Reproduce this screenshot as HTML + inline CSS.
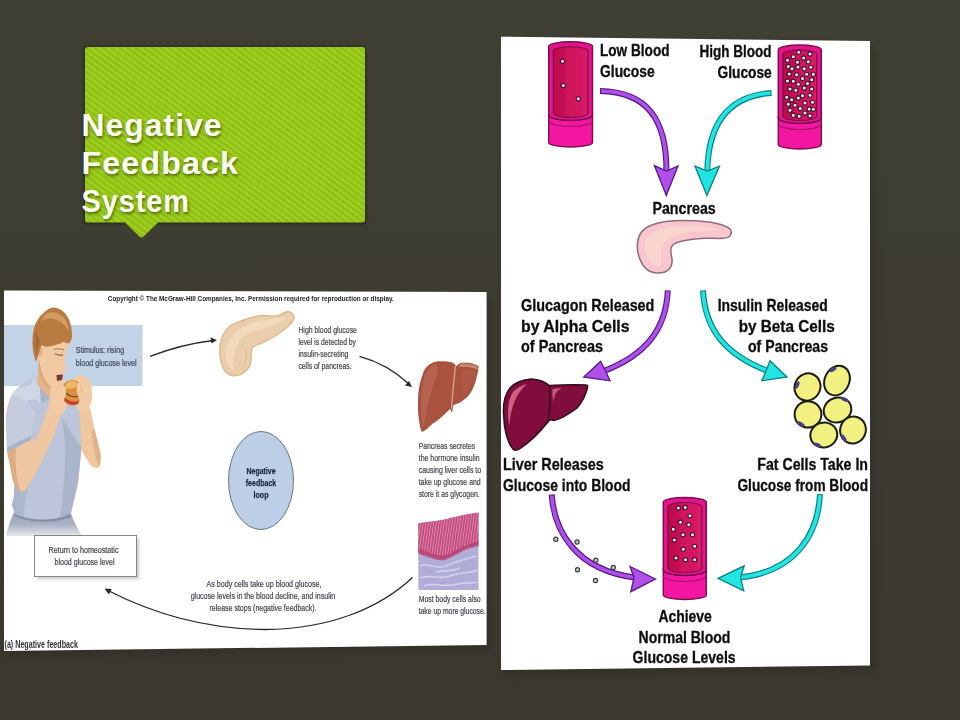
<!DOCTYPE html>
<html><head><meta charset="utf-8">
<title>Negative Feedback System</title>
<style>
html,body{margin:0;padding:0;}
body{width:960px;height:720px;overflow:hidden;background:#3d3b30;font-family:"Liberation Sans",sans-serif;}
svg{display:block;position:absolute;left:0;top:0;}
.t{font-family:"Liberation Sans",sans-serif;}
</style></head>
<body>
<svg width="960" height="720" viewBox="0 0 960 720">
<defs>
<linearGradient id="bg" x1="0" y1="0" x2="0" y2="1">
<stop offset="0" stop-color="#3f4033"/><stop offset="0.45" stop-color="#3e3c31"/><stop offset="1" stop-color="#3c382f"/>
</linearGradient>
<linearGradient id="sg" x1="0" y1="0" x2="1" y2="0"><stop offset="0" stop-color="#9fd021"/><stop offset="0.25" stop-color="#9fd021"/><stop offset="0.5" stop-color="#8ebe13"/><stop offset="0.75" stop-color="#8ebe13"/><stop offset="1" stop-color="#9fd021"/></linearGradient>
<pattern id="stripe" width="4.9" height="4.9" patternUnits="userSpaceOnUse" patternTransform="rotate(-53.5)"><rect width="4.9" height="4.9" fill="url(#sg)"/></pattern>
<filter id="sh" x="-10%" y="-10%" width="120%" height="120%"><feGaussianBlur stdDeviation="4"/></filter>
<filter id="b1" x="-5%" y="-5%" width="110%" height="110%"><feGaussianBlur stdDeviation="0.55"/></filter>
<filter id="b2" x="-5%" y="-5%" width="110%" height="110%"><feGaussianBlur stdDeviation="0.6"/></filter>
<clipPath id="clipL"><polygon points="4,290.6 486.6,292 486.6,645 4,651"/></clipPath>
<clipPath id="clipR"><polygon points="501,36.7 870,41 870,665.5 501,670"/></clipPath>
<linearGradient id="cav" x1="0" y1="0" x2="1" y2="0"><stop offset="0" stop-color="#b80c48"/><stop offset="0.5" stop-color="#d0145c"/><stop offset="1" stop-color="#d81c68"/></linearGradient>
<pattern id="stri" width="2.6" height="8" patternUnits="userSpaceOnUse" patternTransform="rotate(8)"><rect x="0" y="0" width="0.9" height="8" fill="#eba6c6" opacity=".7"/></pattern>
<filter id="b2s" x="-5%" y="-5%" width="110%" height="110%"><feGaussianBlur stdDeviation="1.6"/></filter>
<filter id="tex" x="0" y="0" width="100%" height="100%"><feTurbulence type="fractalNoise" baseFrequency="0.55" numOctaves="2" seed="3" result="n"/><feColorMatrix in="n" type="matrix" values="0 0 0 0 0.72  0 0 0 0 0.5  0 0 0 0 0.3  0 0 0 -2.2 1.25" result="c"/><feComposite in="c" in2="SourceGraphic" operator="in"/></filter>
<linearGradient id="jg" x1="0" y1="0" x2="0" y2="1"><stop offset="0" stop-color="#97a2b8"/><stop offset="0.55" stop-color="#a9b2c5"/><stop offset="1" stop-color="#e6e9ef"/></linearGradient>
</defs>
<rect width="960" height="720" fill="url(#bg)"/>

<!-- title callout -->
<g id="title">
<rect x="84" y="46.500" width="282" height="177.500" rx="4" fill="#000" opacity=".35" filter="url(#b2s)"/>
<path d="M88,47 H362 Q365,47 365,50 V219.5 Q365,222.5 362,222.5 H158 L143.5,236.5 Q141.5,238.5 139.5,236.5 L125,222.5 H88 Q85,222.5 85,219.5 V50 Q85,47 88,47 Z" fill="url(#stripe)"/>
<g class="t" font-weight="bold" font-size="32" fill="#fdfff0" letter-spacing="1" style="text-shadow:1px 2px 3px rgba(0,0,0,.45)">
<text x="81.5" y="136" textLength="141" lengthAdjust="spacingAndGlyphs">Negative</text>
<text x="81.5" y="174" textLength="157.5" lengthAdjust="spacingAndGlyphs">Feedback</text>
<text x="81.5" y="212" textLength="108.5" lengthAdjust="spacingAndGlyphs">System</text>
</g>
</g>

<!-- shadows -->
<polygon points="6,296 491,297 491,651 6,657" fill="#000" opacity=".14" filter="url(#sh)"/>
<polygon points="504,42 876,46 876,671 504,676" fill="#000" opacity=".14" filter="url(#sh)"/>

<!-- LEFT IMAGE -->
<g id="left" clip-path="url(#clipL)">
<rect x="0" y="285" width="495" height="372" fill="#fff"/>
<g id="leftc" filter="url(#b1)">
<!-- blue stimulus box -->
<rect x="4" y="325" width="138.5" height="61" fill="#c2d3e6"/>
<!-- man -->
<g id="man">
  <!-- jeans -->
  <path d="M15,510 L70,510 C72,518 76,526 81,534 L82,536 L6,536 C8,527 11,518 15,510 Z" fill="url(#jg)"/>
  <path d="M15,511 C30,519 55,520 70,512 L71,517 C55,524 30,523 14,516 Z" fill="#8590a8"/>
  <!-- torso shirt -->
  <path d="M14,391.5 C9,400 6,410 6,420 L7,451 L14,478 L14.2,495 L11.8,505 L15,514 C30,521 55,522 71,513 L78,483 L81.5,448 L86,425 L82,404 L68,390 L52,400 L40,386 L33,378 C26,382 18,387 14,391.5 Z" fill="#bcc5d9"/>
  <path d="M14,391.500 C22,386 30,384 34,386 L40,400 C30,398 20,402 10,412 C10,404 11,397 14,391.500 Z" fill="#d2d8e6" opacity=".9"/>
  <path d="M62,418 C66,440 66,470 62,500 L60,517 C64,516 68,515 71,513 L78,483 L81.500,448 C76,440 70,430 62,418 Z" fill="#a7b1c9" opacity=".85"/>
  <path d="M14,478 L14.2,495 L11.8,505 L15,514 C18,515.500 21,516.500 24,517 C24,505 26,494 30,482 Z" fill="#a7b1c9" opacity=".8"/>
  <!-- neck -->
  <path d="M39,364 L56,384 L52,400 L36,392 Z" fill="#e4b58a"/>
  <!-- collar -->
  <path d="M33,378 L28.500,392 L41,404 L40,388 Z" fill="#cfd6e5"/>
  <path d="M40,388 L41,404 L50,398 Z" fill="#aab4cb"/>
  <!-- left arm (viewer left) -->
  <path d="M7,451 L13,481 C15,487 18,491 21,491.500 C24,491.500 26,490 27,488 L40,465 L52,440 L61,414 L50,400 L44,420 L36,440 L31,439 Z" fill="#efc7a0"/>
  <path d="M7,451 L13,481 C15,487 18,491 21,491.500 C17,482 15,470 16,447 Z" fill="#d9a87c" opacity=".8"/>
  <!-- left sleeve -->
  <path d="M12,394 C8,402 6,412 6,420 L7,452 L31,440 L35,412 C30,402 20,396 12,394 Z" fill="#c4ccde"/>
  <path d="M7,447 L31,435.500 L31,440 L7,452 Z" fill="#a9b3ca"/>
  <!-- right arm -->
  <path d="M79,410 L80.300,429 L81.500,450 L89.800,464.500 C93,468 97,469 99.200,467 C101,463 101,458 100.400,452.700 L94.500,429 L90,408 Z" fill="#efc7a0"/>
  <path d="M94.500,429 L100.400,452.700 C101,458 101,463 99.200,467 C96,462 94,450 91,432 Z" fill="#dcae84" opacity=".8"/>
  <!-- hands -->
  <path d="M52,384 C56,378 64,378 67,384 C70,392 69,404 64,412 C60,417 54,416 51,410 C49,402 49,392 52,384 Z" fill="#f2caa3"/>
  <path d="M74,378 C80,373 88,376 91,384 C93,394 92,404 88,410 C84,413 78,412 76,406 C74,398 72,386 74,378 Z" fill="#f2caa3"/>
  <!-- burger -->
  <path d="M63,386 C66,379 76,378 80,384 C83,390 82,398 78,403 C74,407 68,406 65,402 C62,398 61,392 63,386 Z" fill="#d9913f"/>
  <path d="M66,384 C69,380 75,380 78,384 C76,388 70,390 66,388 Z" fill="#ecb865"/>
  <path d="M64,397 C68,401 74,403 79,401 L78,404 C73,406 67,404 64,400 Z" fill="#c63a2a"/>
  <path d="M66,393 C70,397 76,398 80,395" stroke="#7a4a20" stroke-width="1.2" fill="none"/>
  <!-- fingers over burger -->
  <path d="M60,386 C63,384 66,386 66,390 C66,396 64,402 61,404 Z" fill="#f2caa3"/>
  <path d="M80,382 C77,382 76,386 77,392 C78,398 80,402 83,402 Z" fill="#f2caa3"/>
  <!-- face -->
  <path d="M39,346 C37,356 38,368 42,379 C46,386 52,390 56,388 L60,382 L58,379 L63,376 L64,372 L67,368.500 L64,361 L66,352 L69,344 C62,338 48,338 39,346 Z" fill="#f1c9a3"/>
  <path d="M39,358 C40,370 44,381 52,388 C47,387 43,383 41,378 C38,370 38,364 39,358 Z" fill="#d9a57a" opacity=".9"/>
  <path d="M56.500,375 L63,374.500 L62,380 L57,381 Z" fill="#7c3b30"/>
  <path d="M55,353.500 C57,355 60,355.500 63,355" stroke="#6b4a35" stroke-width="1" fill="none"/>
  <path d="M54,349.500 C57,348.500 61,348.500 64,350" stroke="#a8703e" stroke-width="1" fill="none"/>
  <!-- ear -->
  <ellipse cx="40" cy="352" rx="2.600" ry="4.800" fill="#e5b287"/>
  <!-- hair -->
  <path d="M35.800,361.700 C33.500,355 32.300,348 32.500,341.700 C32.500,335 33.500,329 35,325 C37,320 40,316 43.300,313.300 C46.500,310 50,307.800 53.300,307.500 C58,307.500 62,310 65,313.300 C68,317 70,321 70.800,325 C71.800,329 72.200,333 72,336.700 C71.500,340 70.500,342 69.200,343.300 C67,343.500 65,342.500 63.300,341.700 C60.500,343.500 58,344.500 55,345 C52,346 49.500,346.700 46.700,346.700 C45,346.500 43.300,346 41.700,345 C41,346.500 40.500,348 40,350 C39,353 38,355.500 37.500,358 C37,359.500 36.500,360.500 35.800,361.700 Z" fill="#b97a43"/>
  <path d="M46,314 C52,310.500 60,312 65,319 C67,322 68.500,326 69,331 C64,323 57,318 48,318.500 C45,318.800 43,320 41,322 C42,318.500 43.500,316 46,314 Z" fill="#d39d62"/>
  <path d="M36,330 C35,338 35,348 37,356 C37.500,350 38,345 40,341 C38,338 37,334 36,330 Z" fill="#9c6232" opacity=".7"/>
</g>
<!-- texts -->
<g class="t" font-size="9.3" fill="#43464f" stroke="#43464f" stroke-width="0.22">
<text x="75.7" y="353.2" textLength="48.5" lengthAdjust="spacingAndGlyphs" fill="#3c4a66">Stimulus: rising</text>
<text x="75.7" y="365.6" textLength="61" lengthAdjust="spacingAndGlyphs" fill="#3c4a66">blood glucose level</text>
<text x="298.4" y="333.1" textLength="58.5" lengthAdjust="spacingAndGlyphs">High blood glucose</text>
<text x="298.4" y="345" textLength="57.6" lengthAdjust="spacingAndGlyphs">level is detected by</text>
<text x="298.4" y="357.1" textLength="50" lengthAdjust="spacingAndGlyphs">insulin-secreting</text>
<text x="298.4" y="368.9" textLength="53.2" lengthAdjust="spacingAndGlyphs">cells of pancreas.</text>
<text x="418.7" y="448.8" textLength="56.5" lengthAdjust="spacingAndGlyphs">Pancreas secretes</text>
<text x="418.7" y="461" textLength="61" lengthAdjust="spacingAndGlyphs">the hormone insulin</text>
<text x="418.7" y="473.2" textLength="62.5" lengthAdjust="spacingAndGlyphs">causing liver cells to</text>
<text x="418.7" y="485.3" textLength="62" lengthAdjust="spacingAndGlyphs">take up glucose and</text>
<text x="418.7" y="497.3" textLength="61" lengthAdjust="spacingAndGlyphs">store it as glycogen.</text>
<text x="418.7" y="602" textLength="62" lengthAdjust="spacingAndGlyphs">Most body cells also</text>
<text x="418.7" y="613.8" textLength="67" lengthAdjust="spacingAndGlyphs">take up more glucose.</text>
<text x="206.5" y="586.8" textLength="115" lengthAdjust="spacingAndGlyphs">As body cells take up blood glucose,</text>
<text x="190.7" y="598.5" textLength="144.5" lengthAdjust="spacingAndGlyphs">glucose levels in the blood decline, and insulin</text>
<text x="209.5" y="611" textLength="107" lengthAdjust="spacingAndGlyphs">release stops (negative feedback).</text>
</g>
<text class="t" x="107.8" y="301" font-size="7.8" font-weight="bold" fill="#222" textLength="286" lengthAdjust="spacingAndGlyphs">Copyright © The McGraw-Hill Companies, Inc. Permission required for reproduction or display.</text>
<text class="t" x="4.5" y="648" font-size="10" font-weight="bold" fill="#333" textLength="73.5" lengthAdjust="spacingAndGlyphs">(a) Negative feedback</text>
<!-- return box -->
<rect x="37" y="538" width="102" height="41" fill="#888" opacity=".45" filter="url(#b2s)"/>
<rect x="34.5" y="535.5" width="102" height="41" fill="#fff" stroke="#888" stroke-width="1"/>
<g class="t" font-size="9.3" fill="#43464f" stroke="#43464f" stroke-width="0.22">
<text x="48.5" y="553" textLength="70" lengthAdjust="spacingAndGlyphs">Return to homeostatic</text>
<text x="54.5" y="565" textLength="60" lengthAdjust="spacingAndGlyphs">blood glucose level</text>
</g>
<!-- centre ellipse -->
<ellipse cx="261" cy="480.5" rx="32.5" ry="49" fill="#bccfe6" stroke="#6a7488" stroke-width="1"/>
<g class="t" font-size="9.6" font-weight="bold" fill="#1b2540" stroke="#1b2540" stroke-width="0.25" text-anchor="middle">
<text x="261" y="474" textLength="29" lengthAdjust="spacingAndGlyphs">Negative</text>
<text x="261" y="486" textLength="30.5" lengthAdjust="spacingAndGlyphs">feedback</text>
<text x="261" y="498.2" textLength="15" lengthAdjust="spacingAndGlyphs">loop</text>
</g>
<!-- pancreas -->
<path d="M293.75,316.25 C292,312 289,311 286,312 C282,313.5 279,316 275,316.25 C270,316.5 265,315 260,315.6 C254,316.5 249,318 243.75,320 C239,322 235,323 231.25,325 C228,327.5 225.5,330 223.75,333.75 C221.5,338 220,342 220,347.5 C219.8,352 220,356 220.6,360 C221.5,365 223,369.5 226.25,372.5 C229,375 232,376 235,375.6 C238.5,375.3 241.5,374.5 243.75,372.5 C247,370 249,368 250,365 C251.2,361 251,357.5 251.25,353.75 C251.5,351 251.5,349 252.5,347.5 C254.5,345.5 257,344.8 260,343.75 C264.5,342 268.5,339.8 272.5,337.5 C277,335 281,332 285,328.75 C288,326.5 290.5,324 292.5,321.25 C293.8,319.5 294.3,317.8 293.75,316.25 Z" fill="#ecd0ae" stroke="#dcb48c" stroke-width="1.4"/>
<path d="M293.75,316.25 C292,312 289,311 286,312 C282,313.5 279,316 275,316.25 C270,316.5 265,315 260,315.6 C254,316.5 249,318 243.75,320 C239,322 235,323 231.25,325 C228,327.5 225.5,330 223.75,333.75 C221.5,338 220,342 220,347.5 C219.8,352 220,356 220.6,360 C221.5,365 223,369.5 226.25,372.5 C229,375 232,376 235,375.6 C238.5,375.3 241.5,374.5 243.75,372.5 C247,370 249,368 250,365 C251.2,361 251,357.5 251.25,353.75 C251.5,351 251.5,349 252.5,347.5 C254.5,345.5 257,344.8 260,343.75 C264.5,342 268.5,339.8 272.5,337.5 C277,335 281,332 285,328.75 C288,326.5 290.5,324 292.5,321.25 C293.8,319.5 294.3,317.8 293.75,316.25 Z" fill="#fff" filter="url(#tex)" opacity=".55"/>
<path d="M286,315 C276,320 262,319 248,324 C236,329 227,340 225.5,352 C225,360 228,367 234,370 C232,360 234,348 241,339 C250,330 270,329 284,320 Z" fill="#f3dec2" opacity=".75"/>
<path d="M246,350 C247,358 246,364 242,369" stroke="#dcb48c" stroke-width="1" fill="none" opacity=".8"/>
<!-- liver -->
<path d="M441,361.25 C436,361 432,362.5 428.75,365 C425.5,367.5 423.5,371 422.5,375 C420.5,380 419.5,385 418.75,390 C418,395.5 418,401 418,406.25 C418,412 418.5,417.5 419.4,422.5 C420,427 420.8,430.5 421.9,431.9 C425,431 428.5,427.5 432.5,423.75 C436,421.5 439.5,419 442.5,416.25 C445.5,413.5 448,411 450,408.75 L452,413 L453.5,405 C456,404.2 458,403.5 460,402.5 C464,400 467.5,397 470,393.75 C473,389 475,384 476.25,378.75 C477.5,374 478.5,370 478.75,366.25 C476,364.5 473,363.5 470,363 C466.5,362.6 463,362.7 460,363.1 C458.5,364 457.5,365 456.25,366.25 C455,364.5 454,363.3 452.5,362.5 C449,361.5 445,361.2 441,361.25 Z" fill="#a8523f"/>
<path d="M436,363 C429,366 425,373 423,382 C421,392 420.5,404 421,414 C421.5,420 422,425 423,428 C427,412 430,392 438,372 Z" fill="#bb6a55" opacity=".75"/>
<path d="M455.5,366 C454,378 452.500,392 451.500,409" stroke="#d9a58c" stroke-width="1.3" fill="none"/>
<path d="M460,364 C466,363.300 472,364 478,366.500 L477.500,369.500 C471,367 465,366.500 459,367 Z" fill="#c98a72"/>
<path d="M462,370 C468,369 473,370 476,372 C474,382 470,390 464,396 C462,388 461,378 462,370 Z" fill="#b25e49" opacity=".6"/>
<!-- tissue -->
<g id="tissue">
<path d="M418.3,523.3 C428,522 440,521 450,518.3 C458,516 466,514.5 478.5,512.5 L478.5,590 L418.3,590 Z" fill="#b1add9"/>
<path d="M418.3,523.3 C428,522 440,521 450,518.3 C458,516 466,514.5 478.5,512.5 L478.5,544.2 C470,546 462,549 458,551.700 C450,556 446,558.500 441.700,558.300 C434,558 426,554 418.3,551.700 Z" fill="#c24a7c"/>
<path d="M418.3,523.3 C428,522 440,521 450,518.3 C458,516 466,514.5 478.5,512.5 L478.5,544.2 C470,546 462,549 458,551.700 C450,556 446,558.500 441.700,558.300 C434,558 426,554 418.3,551.700 Z" fill="url(#stri)"/>
<path d="M418.3,548 C426,551 434,555.500 441.700,555.500 C448,555.500 454,551 460,548 C466,545 472,543 478.500,541.500 L478.500,546 C470,548 462,551 458,553.700 C450,558 446,560.500 441.700,560.300 C434,560 426,556 418.300,553.700 Z" fill="#b8406e" opacity=".8"/>
<g stroke="#dcdaf0" stroke-width="1.6" fill="none" opacity=".8">
<path d="M420,566 C428,562 436,570 446,566 C454,562 462,560 476,556"/>
<path d="M420,578 C430,574 440,580 450,576 C460,572 468,574 477,570"/>
<path d="M424,586 C434,582 446,588 458,584 C466,582 472,584 477,582"/>
<path d="M436,572 C444,570 452,572 460,568"/>
</g>
<g stroke="#c890c0" stroke-width="1" fill="none" opacity=".7">
<path d="M426,570 L432,572 M448,580 L455,578 M462,566 L468,564 M440,584 L446,583"/>
</g>
</g>
<!-- arrows -->
<g fill="none" stroke="#2a2a2e" stroke-width="1.3">
<path d="M150,356.3 C172,348 192,343 213,340.5"/>
<path d="M359.5,356.4 C380,362 396,372 409,384"/>
<path d="M412.5,577.5 C380,608 330,629 265,629.5 C200,629 150,612 108,590.5"/>
</g>
<g fill="#2a2a2e">
<path d="M217,340 L210.5,337.5 L211.5,343.5 Z"/>
<path d="M412,387 L405,385.500 L409,381 Z"/>
<path d="M104.500,588.500 L111.800,589 L108.800,594.500 Z"/>
</g>
</g><!--END leftc--></g>

<!-- RIGHT IMAGE -->
<g id="right" clip-path="url(#clipR)">
<rect x="495" y="30" width="380" height="645" fill="#fff"/>
<g id="rightc" filter="url(#b1)">
<!--T1-->
<path d="M548.7,114 L548.7,142.5 A21.899999999999977,4.5 0 0 0 592.5,142.5 L592.5,114 Z" fill="#f318a0" stroke="#7a0c4c" stroke-width="1.4"/>
<path d="M548.7,46.3 A21.899999999999977,4.5 0 0 1 592.5,46.3 L592.5,115 A21.899999999999977,5.5 0 0 1 548.7,115 Z" fill="#e2128a" stroke="#7a0c4c" stroke-width="1.4"/>
<path d="M553.3000000000001,50.8 A17.299999999999955,4.0 0 0 1 587.9,50.8 L587.9,113 A17.299999999999955,4.5 0 0 1 553.3000000000001,113 Z" fill="url(#cav)" stroke="#7a0c4c" stroke-width="1.1"/>
<path d="M548.7,115 A21.899999999999977,5.5 0 0 0 592.5,115" fill="none" stroke="#7a0c4c" stroke-width="1.2"/>
<path d="M548.7,121 A21.899999999999977,5.5 0 0 0 592.5,121" fill="none" stroke="#a81070" stroke-width="1.2"/>
<circle cx="562.5" cy="61.3" r="2.1" fill="#e4ecee" stroke="#4a1030" stroke-width="1.1"/>
<circle cx="563.3" cy="85.5" r="2.1" fill="#e4ecee" stroke="#4a1030" stroke-width="1.1"/>
<circle cx="578.3" cy="98.8" r="2.1" fill="#e4ecee" stroke="#4a1030" stroke-width="1.1"/>
<!--T2-->
<path d="M778.3,117 L778.3,144.5 A21.5,4.5 0 0 0 821.3,144.5 L821.3,117 Z" fill="#f318a0" stroke="#7a0c4c" stroke-width="1.4"/>
<path d="M778.3,49.5 A21.5,4.5 0 0 1 821.3,49.5 L821.3,118 A21.5,5.5 0 0 1 778.3,118 Z" fill="#e2128a" stroke="#7a0c4c" stroke-width="1.4"/>
<path d="M782.9,54.0 A16.899999999999977,4.0 0 0 1 816.6999999999999,54.0 L816.6999999999999,116 A16.899999999999977,4.5 0 0 1 782.9,116 Z" fill="url(#cav)" stroke="#7a0c4c" stroke-width="1.1"/>
<path d="M778.3,118 A21.5,5.5 0 0 0 821.3,118" fill="none" stroke="#7a0c4c" stroke-width="1.2"/>
<path d="M778.3,124 A21.5,5.5 0 0 0 821.3,124" fill="none" stroke="#a81070" stroke-width="1.2"/>
<circle cx="798.7" cy="52.3" r="2.1" fill="#e4ecee" stroke="#4a1030" stroke-width="1.1"/>
<circle cx="810.0" cy="54.0" r="2.1" fill="#e4ecee" stroke="#4a1030" stroke-width="1.1"/>
<circle cx="793.3" cy="56.8" r="2.1" fill="#e4ecee" stroke="#4a1030" stroke-width="1.1"/>
<circle cx="803.7" cy="58.0" r="2.1" fill="#e4ecee" stroke="#4a1030" stroke-width="1.1"/>
<circle cx="787.5" cy="60.2" r="2.1" fill="#e4ecee" stroke="#4a1030" stroke-width="1.1"/>
<circle cx="797.5" cy="62.3" r="2.1" fill="#e4ecee" stroke="#4a1030" stroke-width="1.1"/>
<circle cx="808.3" cy="61.8" r="2.1" fill="#e4ecee" stroke="#4a1030" stroke-width="1.1"/>
<circle cx="788.3" cy="66.5" r="2.1" fill="#e4ecee" stroke="#4a1030" stroke-width="1.1"/>
<circle cx="792.0" cy="68.7" r="2.1" fill="#e4ecee" stroke="#4a1030" stroke-width="1.1"/>
<circle cx="798.0" cy="67.0" r="2.1" fill="#e4ecee" stroke="#4a1030" stroke-width="1.1"/>
<circle cx="804.2" cy="68.7" r="2.1" fill="#e4ecee" stroke="#4a1030" stroke-width="1.1"/>
<circle cx="810.8" cy="67.3" r="2.1" fill="#e4ecee" stroke="#4a1030" stroke-width="1.1"/>
<circle cx="789.2" cy="74.0" r="2.1" fill="#e4ecee" stroke="#4a1030" stroke-width="1.1"/>
<circle cx="796.7" cy="74.7" r="2.1" fill="#e4ecee" stroke="#4a1030" stroke-width="1.1"/>
<circle cx="806.7" cy="74.3" r="2.1" fill="#e4ecee" stroke="#4a1030" stroke-width="1.1"/>
<circle cx="802.5" cy="78.5" r="2.1" fill="#e4ecee" stroke="#4a1030" stroke-width="1.1"/>
<circle cx="787.5" cy="81.0" r="2.1" fill="#e4ecee" stroke="#4a1030" stroke-width="1.1"/>
<circle cx="793.3" cy="81.3" r="2.1" fill="#e4ecee" stroke="#4a1030" stroke-width="1.1"/>
<circle cx="798.3" cy="84.3" r="2.1" fill="#e4ecee" stroke="#4a1030" stroke-width="1.1"/>
<circle cx="807.5" cy="83.5" r="2.1" fill="#e4ecee" stroke="#4a1030" stroke-width="1.1"/>
<circle cx="811.7" cy="79.7" r="2.1" fill="#e4ecee" stroke="#4a1030" stroke-width="1.1"/>
<circle cx="804.2" cy="88.0" r="2.1" fill="#e4ecee" stroke="#4a1030" stroke-width="1.1"/>
<circle cx="790.0" cy="89.0" r="2.1" fill="#e4ecee" stroke="#4a1030" stroke-width="1.1"/>
<circle cx="795.8" cy="90.2" r="2.1" fill="#e4ecee" stroke="#4a1030" stroke-width="1.1"/>
<circle cx="811.7" cy="89.0" r="2.1" fill="#e4ecee" stroke="#4a1030" stroke-width="1.1"/>
<circle cx="798.3" cy="98.0" r="2.1" fill="#e4ecee" stroke="#4a1030" stroke-width="1.1"/>
<circle cx="802.5" cy="95.7" r="2.1" fill="#e4ecee" stroke="#4a1030" stroke-width="1.1"/>
<circle cx="810.0" cy="95.2" r="2.1" fill="#e4ecee" stroke="#4a1030" stroke-width="1.1"/>
<circle cx="786.7" cy="97.3" r="2.1" fill="#e4ecee" stroke="#4a1030" stroke-width="1.1"/>
<circle cx="791.7" cy="99.7" r="2.1" fill="#e4ecee" stroke="#4a1030" stroke-width="1.1"/>
<circle cx="805.0" cy="103.0" r="2.1" fill="#e4ecee" stroke="#4a1030" stroke-width="1.1"/>
<circle cx="812.5" cy="102.3" r="2.1" fill="#e4ecee" stroke="#4a1030" stroke-width="1.1"/>
<circle cx="795.0" cy="105.2" r="2.1" fill="#e4ecee" stroke="#4a1030" stroke-width="1.1"/>
<circle cx="788.3" cy="104.3" r="2.1" fill="#e4ecee" stroke="#4a1030" stroke-width="1.1"/>
<circle cx="800.3" cy="108.5" r="2.1" fill="#e4ecee" stroke="#4a1030" stroke-width="1.1"/>
<circle cx="809.2" cy="109.0" r="2.1" fill="#e4ecee" stroke="#4a1030" stroke-width="1.1"/>
<circle cx="790.0" cy="110.2" r="2.1" fill="#e4ecee" stroke="#4a1030" stroke-width="1.1"/>
<circle cx="805.0" cy="113.0" r="2.1" fill="#e4ecee" stroke="#4a1030" stroke-width="1.1"/>
<circle cx="793.3" cy="115.2" r="2.1" fill="#e4ecee" stroke="#4a1030" stroke-width="1.1"/>
<circle cx="799.2" cy="116.3" r="2.1" fill="#e4ecee" stroke="#4a1030" stroke-width="1.1"/>
<circle cx="810.0" cy="115.7" r="2.1" fill="#e4ecee" stroke="#4a1030" stroke-width="1.1"/>
<circle cx="813.3" cy="74.3" r="2.1" fill="#e4ecee" stroke="#4a1030" stroke-width="1.1"/>
<circle cx="813.3" cy="109.3" r="2.1" fill="#e4ecee" stroke="#4a1030" stroke-width="1.1"/>
<!--T3-->
<path d="M663.3,569 L663.3,595.0 A21.5,4.5 0 0 0 706.3,595.0 L706.3,569 Z" fill="#f318a0" stroke="#7a0c4c" stroke-width="1.4"/>
<path d="M663.3,502.0 A21.5,4.5 0 0 1 706.3,502.0 L706.3,570 A21.5,5.5 0 0 1 663.3,570 Z" fill="#e2128a" stroke="#7a0c4c" stroke-width="1.4"/>
<path d="M667.9,506.5 A16.899999999999977,4.0 0 0 1 701.6999999999999,506.5 L701.6999999999999,568 A16.899999999999977,4.5 0 0 1 667.9,568 Z" fill="url(#cav)" stroke="#7a0c4c" stroke-width="1.1"/>
<path d="M663.3,570 A21.5,5.5 0 0 0 706.3,570" fill="none" stroke="#7a0c4c" stroke-width="1.2"/>
<path d="M663.3,576 A21.5,5.5 0 0 0 706.3,576" fill="none" stroke="#a81070" stroke-width="1.2"/>
<circle cx="678.3" cy="508.0" r="2.1" fill="#e4ecee" stroke="#4a1030" stroke-width="1.1"/>
<circle cx="685.3" cy="507.5" r="2.1" fill="#e4ecee" stroke="#4a1030" stroke-width="1.1"/>
<circle cx="690.0" cy="515.8" r="2.1" fill="#e4ecee" stroke="#4a1030" stroke-width="1.1"/>
<circle cx="680.5" cy="522.2" r="2.1" fill="#e4ecee" stroke="#4a1030" stroke-width="1.1"/>
<circle cx="688.8" cy="524.7" r="2.1" fill="#e4ecee" stroke="#4a1030" stroke-width="1.1"/>
<circle cx="673.3" cy="529.2" r="2.1" fill="#e4ecee" stroke="#4a1030" stroke-width="1.1"/>
<circle cx="683.0" cy="534.7" r="2.1" fill="#e4ecee" stroke="#4a1030" stroke-width="1.1"/>
<circle cx="692.5" cy="534.7" r="2.1" fill="#e4ecee" stroke="#4a1030" stroke-width="1.1"/>
<circle cx="674.3" cy="540.0" r="2.1" fill="#e4ecee" stroke="#4a1030" stroke-width="1.1"/>
<circle cx="694.7" cy="546.3" r="2.1" fill="#e4ecee" stroke="#4a1030" stroke-width="1.1"/>
<circle cx="683.3" cy="549.2" r="2.1" fill="#e4ecee" stroke="#4a1030" stroke-width="1.1"/>
<circle cx="676.0" cy="558.0" r="2.1" fill="#e4ecee" stroke="#4a1030" stroke-width="1.1"/>
<circle cx="685.5" cy="559.7" r="2.1" fill="#e4ecee" stroke="#4a1030" stroke-width="1.1"/>
<circle cx="694.7" cy="559.7" r="2.1" fill="#e4ecee" stroke="#4a1030" stroke-width="1.1"/>

<!-- texts -->
<g class="t" font-size="16.3" font-weight="bold" fill="#0c0c0c" stroke="#0c0c0c" stroke-width="0.3" stroke-linejoin="round">
<text x="600" y="56" textLength="69.5" lengthAdjust="spacingAndGlyphs">Low Blood</text>
<text x="600" y="77" textLength="54.7" lengthAdjust="spacingAndGlyphs">Glucose</text>
<text x="699.5" y="57" textLength="72" lengthAdjust="spacingAndGlyphs">High Blood</text>
<text x="717.5" y="77.5" textLength="54.2" lengthAdjust="spacingAndGlyphs">Glucose</text>
<text x="652.4" y="214" textLength="63.4" lengthAdjust="spacingAndGlyphs">Pancreas</text>
<text x="521" y="311" textLength="133.4" lengthAdjust="spacingAndGlyphs">Glucagon Released</text>
<text x="521" y="331.5" textLength="108.5" lengthAdjust="spacingAndGlyphs">by Alpha Cells</text>
<text x="521" y="352.3" textLength="82" lengthAdjust="spacingAndGlyphs">of Pancreas</text>
<text x="717.7" y="311" textLength="110" lengthAdjust="spacingAndGlyphs">Insulin Released</text>
<text x="738.7" y="331.5" textLength="96" lengthAdjust="spacingAndGlyphs">by Beta Cells</text>
<text x="748" y="352.3" textLength="80" lengthAdjust="spacingAndGlyphs">of Pancreas</text>
<text x="503" y="470" textLength="100.7" lengthAdjust="spacingAndGlyphs">Liver Releases</text>
<text x="503" y="490.6" textLength="127.6" lengthAdjust="spacingAndGlyphs">Glucose into Blood</text>
<text x="757.3" y="470" textLength="110.7" lengthAdjust="spacingAndGlyphs">Fat Cells Take In</text>
<text x="737.5" y="490.6" textLength="130.5" lengthAdjust="spacingAndGlyphs">Glucose from Blood</text>
<text x="658.4" y="622.4" textLength="53.4" lengthAdjust="spacingAndGlyphs">Achieve</text>
<text x="638.6" y="643" textLength="91.8" lengthAdjust="spacingAndGlyphs">Normal Blood</text>
<text x="632.6" y="663.2" textLength="103" lengthAdjust="spacingAndGlyphs">Glucose Levels</text>
</g>
<!-- pancreas -->
<path d="M637.6,242.5 C638,238 639.5,234.5 641.7,231.7 C645,228 649,225.800 653.900,224.200 C660,222.300 667,221.300 674.200,220.800 C681,220.300 689,220.400 695.800,220.800 C702,221.200 709,221.800 714.800,222.900 C719.500,223.800 723.500,225 727,226.900 C729.500,228.300 731,229.800 731.300,231.700 C731.300,234 730.300,236 728.300,237.100 C726,238.200 723,238.400 720.200,238.400 C714,238.400 707,238.200 701.200,238.400 C695.500,238.800 690,239.500 685,240.500 C681,241.300 677,242.300 674.200,243.900 C671.800,245.500 670.800,248 670.800,250.600 C670.800,254.500 672.300,258 672.100,261.500 C672,264.800 670.800,267.500 668.700,269.600 C666,272 662,273 657.900,273 C654,272.800 650,271.800 647.100,269.600 C644,267 641.800,263.800 640.300,260.100 C639,257 638,254 637.600,250.600 C637.300,247.800 637.300,245 637.600,242.500 Z" fill="#f8c6cd" stroke="#8e6c7e" stroke-width="1.5" stroke-linejoin="round"/>
<path d="M646,240 C650,232 660,228 674,226.500 C690,225 706,226 722,230 C708,230.500 692,231 680,234 C668,237 662,242 661,252 C660.500,258 662,263 660,267 C654,266 648,260 645.500,252 C644.500,248 645,244 646,240 Z" fill="#fbdccf" opacity=".7"/>
<!-- liver -->
<path d="M531,379 C522,380 514,383 510,388 C504,396 503,408 503.75,416 C504,428 507,442 513,449 C515,451.5 518,450 521,448 C528,443 540,432 547.5,422.5 C549,420 550,419 553.75,420.6 C558,419.5 562,418 565,416 C571,412 575,410 577.5,407.5 C582,402 586,394 587.5,387.5 C588,385.5 587,384.8 585,385 C574,384.5 560,385 549.4,385.6 C546,382.5 540,379.5 531,379 Z" fill="#800f3e" stroke="#2e0818" stroke-width="1.5" stroke-linejoin="round"/>
<path d="M549.4,385.6 C550.500,396 550,410 548,421.500" stroke="#2e0818" stroke-width="1.4" fill="none"/>
<path d="M527,384 C519,386 513,390 510.500,397 C507.500,405 507.500,416 509.500,426 C510,414 513,402 519,393 C521.500,389.500 524,386.500 527,384 Z" fill="#d0607f"/>
<path d="M552.500,389 C557,388 560,388 562,388.500 C557,390 554.500,394 553.500,402 C552.500,398 552.300,393 552.500,389 Z" fill="#c85878"/>
<!-- fat cells -->
<g fill="#f2f081" stroke="#1c1c12" stroke-width="2">
<ellipse cx="807.5" cy="387" rx="12.8" ry="13.8" transform="rotate(25 807.5 387)"/>
<ellipse cx="837" cy="380.6" rx="12.3" ry="15.3" transform="rotate(25 837 380.6)"/>
<ellipse cx="808" cy="414.4" rx="13.4" ry="13.2"/>
<ellipse cx="837.5" cy="410" rx="14" ry="12.3" transform="rotate(-20 837.5 410)"/>
<ellipse cx="823.8" cy="435" rx="13.5" ry="12.4" transform="rotate(-15 823.8 435)"/>
<ellipse cx="853" cy="430" rx="12.8" ry="13.6" transform="rotate(20 853 430)"/>
</g>
<g fill="#4a3f8c">
<ellipse cx="833" cy="369.6" rx="4" ry="1.8" transform="rotate(-30 833 369.6)"/>
<ellipse cx="797.3" cy="385" rx="1.8" ry="4" transform="rotate(20 797.3 385)"/>
<ellipse cx="844.5" cy="399.4" rx="4" ry="1.8" transform="rotate(25 844.5 399.4)"/>
<ellipse cx="801" cy="424" rx="4" ry="1.8" transform="rotate(30 801 424)"/>
<ellipse cx="817.5" cy="445" rx="4" ry="1.8" transform="rotate(25 817.5 445)"/>
<ellipse cx="843.8" cy="438" rx="1.8" ry="4" transform="rotate(-35 843.8 438)"/>
</g>
<!-- arrows -->
<g fill="none" stroke-linecap="butt" stroke-linejoin="miter">
<g stroke="#4f1a8c" stroke-width="6">
<path d="M600,91 C646,92 667,118 666.4,172"/>
<path d="M667.8,290.3 C666,330 645,355 604,371"/>
<path d="M551.7,494.5 C554,530 575,570 635,577.5"/>
</g>
<g stroke="#0d7f80" stroke-width="6">
<path d="M771.5,93 C730,96 708,122 707.3,172"/>
<path d="M703,290.3 C705,330 726,355 768,371"/>
<path d="M820,494.2 C818,535 795,572 739,577.5"/>
</g>
<g stroke="#b24fe8" stroke-width="3.7">
<path d="M601,91 C646,92 667,118 666.4,172"/>
<path d="M667.8,291.3 C666,330 645,355 604,371"/>
<path d="M551.8,495.5 C554,530 575,570 635,577.5"/>
</g>
<g stroke="#21e4e2" stroke-width="3.7">
<path d="M770.5,93 C730,96 708,122 707.3,172"/>
<path d="M703,291.3 C705,330 726,355 768,371"/>
<path d="M819.9,495.2 C818,535 795,572 739,577.5"/>
</g>
</g>
<g stroke-width="1.3" stroke-linejoin="miter">
<path d="M666.3,195.6 L654.4,165.6 L666.5,171 L678,166 Z" fill="#b24fe8" stroke="#4f1a8c"/>
<path d="M706.9,195.6 L695,166.2 L707.4,171 L719.4,166.2 Z" fill="#21e4e2" stroke="#0d7f80"/>
<path d="M583.8,377 L600.6,361.3 L605.5,370.7 L610,380.8 Z" fill="#b24fe8" stroke="#4f1a8c"/>
<path d="M787,377 L770,360.7 L766.2,370.7 L761.8,380.800 Z" fill="#21e4e2" stroke="#0d7f80"/>
<path d="M655.5,579 L630,566.500 L634,577.500 L630.800,591.700 Z" fill="#b24fe8" stroke="#4f1a8c"/>
<path d="M718,578.300 L744.200,565.800 L740.500,577.500 L743.700,590.800 Z" fill="#21e4e2" stroke="#0d7f80"/>
</g>
<!-- small glucose dots -->
<g fill="#c4cccc" stroke="#3a4048" stroke-width="1.2">
<circle cx="555.8" cy="539.2" r="2.1"/><circle cx="577" cy="542" r="2.1"/><circle cx="595.8" cy="560.3" r="2.1"/><circle cx="577.5" cy="569.7" r="2.1"/><circle cx="613.3" cy="567.5" r="2.1"/><circle cx="595.5" cy="580.5" r="2.1"/>
</g>
</g><!--END rightc--></g>
</svg>
</body></html>
